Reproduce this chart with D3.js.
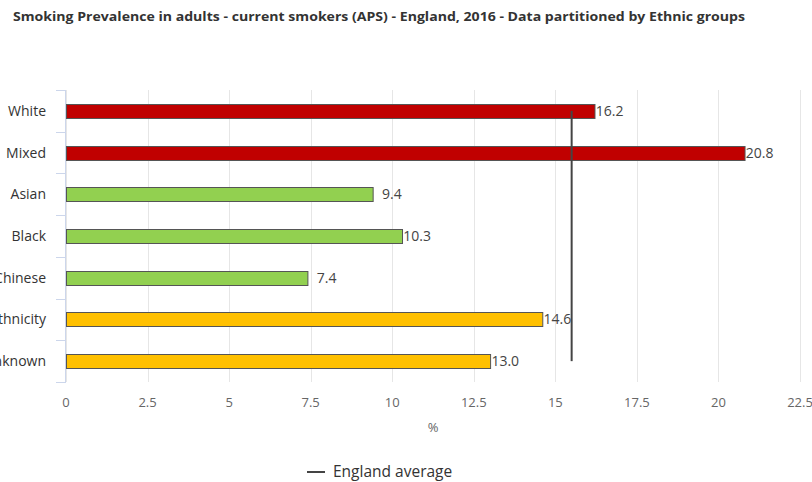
<!DOCTYPE html>
<html><head><meta charset="utf-8">
<script src="https://cdn.jsdelivr.net/npm/d3@7/dist/d3.min.js"></script>
<style>body{margin:0;background:#fff;}svg{display:block;}</style>
</head><body>
<svg id="c" width="812" height="482"></svg>
<script>
const categories = ["White","Mixed","Asian","Black","Chinese","Other ethnicity","Unknown"];
const values = [16.2, 20.8, 9.4, 10.3, 7.4, 14.6, 13.0];
const colors = ["#c00000","#c00000","#92d050","#92d050","#92d050","#ffc000","#ffc000"];
const xTicks = [0,2.5,5,7.5,10,12.5,15,17.5,20,22.5];
const englandAverage = 15.5;
const title = "Smoking Prevalence in adults - current smokers (APS) - England, 2016 - Data partitioned by Ethnic groups";

(function(){
const svg = d3.select("#c");
const font = "'Open Sans', 'DejaVu Sans', sans-serif";
const pl = 66, pr = 800, pt = 90, pb = 382;

const x = d3.scaleLinear().domain([0,22.5]).range([pl,pr]);
const y = d3.scaleBand().domain(categories).range([pt,pb]).paddingInner(0).paddingOuter(0);

// title
svg.append("text").attr("x",13).attr("y",21).attr("font-family",font)
  .attr("font-size",13).attr("font-weight","bold").attr("fill","#333")
  .attr("textLength",732).attr("lengthAdjust","spacingAndGlyphs").text(title);

// grid
svg.append("g").selectAll("line").data(xTicks).join("line")
  .attr("x1",d=>Math.round(x(d))+0.5).attr("x2",d=>Math.round(x(d))+0.5).attr("y1",pt).attr("y2",pb)
  .attr("stroke","#e6e6e6").attr("stroke-width",1);

// x tick labels
svg.append("g").selectAll("text").data(xTicks).join("text")
  .attr("x",d=>x(d)).attr("y",407).attr("text-anchor","middle")
  .attr("font-family",font).attr("font-size",13).attr("fill","#666")
  .text(d=>d);

svg.append("text").attr("x",433).attr("y",432).attr("text-anchor","middle")
  .attr("font-family",font).attr("font-size",13).attr("fill","#666").text("%");

// y axis line and ticks
svg.append("line").attr("x1",pl-0.5).attr("x2",pl-0.5).attr("y1",pt).attr("y2",pb)
  .attr("stroke","#ccd6eb");
const bounds = categories.map(c=>y(c)).concat([pb]);
svg.append("g").selectAll("line").data(bounds).join("line")
  .attr("x1",pl-10).attr("x2",pl).attr("y1",d=>Math.round(d)+0.5).attr("y2",d=>Math.round(d)+0.5)
  .attr("stroke","#ccd6eb");

// y labels
svg.append("g").selectAll("text").data(categories).join("text")
  .attr("x",46).attr("y",d=>y(d)+y.bandwidth()/2+5).attr("text-anchor","end")
  .attr("font-family",font).attr("font-size",14).attr("fill","#333").text(d=>d);

// bars
const bh = 14;
svg.append("g").selectAll("rect").data(values).join("rect")
  .attr("x",x(0)+0.5).attr("y",(d,i)=>Math.round(y(categories[i])+y.bandwidth()/2-bh/2)+0.5)
  .attr("width",d=>x(d)-x(0)).attr("height",bh)
  .attr("fill",(d,i)=>colors[i]).attr("stroke","#555").attr("stroke-width",1);

// data labels (right-aligned within a fixed label box, as in the reference)
const labelBox = 27;
svg.append("g").selectAll("text").data(values).join("text")
  .attr("x",d=>x(d)+2+labelBox).attr("y",(d,i)=>y(categories[i])+y.bandwidth()/2+5)
  .attr("text-anchor","end")
  .attr("font-family",font).attr("font-size",14).attr("fill","#444")
  .text(d=>d.toFixed(1));

// England average line
svg.append("line")
  .attr("x1",x(englandAverage)).attr("x2",x(englandAverage))
  .attr("y1",y(categories[0])+y.bandwidth()/2)
  .attr("y2",y(categories[categories.length-1])+y.bandwidth()/2)
  .attr("stroke","#444").attr("stroke-width",2);

// legend
svg.append("line").attr("x1",307).attr("x2",325).attr("y1",472).attr("y2",472)
  .attr("stroke","#444").attr("stroke-width",2);
svg.append("text").attr("x",333).attr("y",477).attr("font-family",font)
  .attr("font-size",15.5).attr("fill","#333").text("England average");
})();
</script>
</body></html>
